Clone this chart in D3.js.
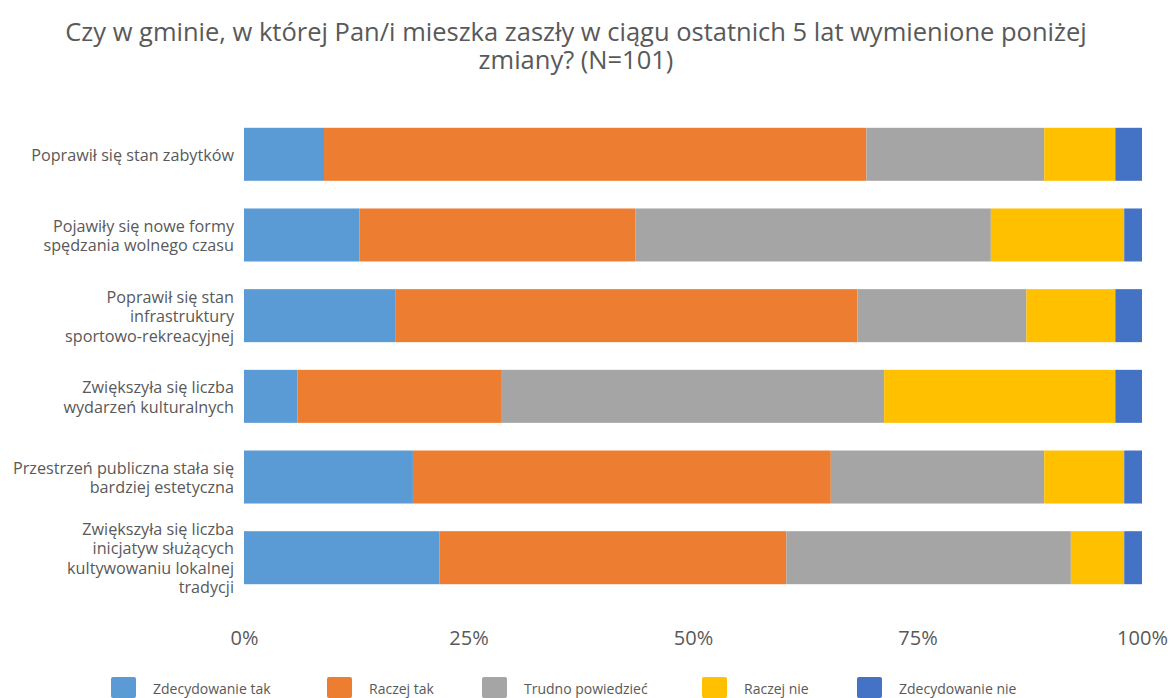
<!DOCTYPE html>
<html>
<head>
<meta charset="utf-8">
<script src="https://cdn.jsdelivr.net/npm/d3@7"></script>
<style>
  body { margin: 0; background: #fff; }
  text { font-family: "Open Sans", sans-serif; fill: #595959; }
</style>
</head>
<body>
<div id="chart"></div>
<script>
// categories (top to bottom), wrapped as in the original
var categories = [
  ["Poprawił się stan zabytków"],
  ["Pojawiły się nowe formy", "spędzania wolnego czasu"],
  ["Poprawił się stan", "infrastruktury", "sportowo-rekreacyjnej"],
  ["Zwiększyła się liczba", "wydarzeń kulturalnych"],
  ["Przestrzeń publiczna stała się", "bardziej estetyczna"],
  ["Zwiększyła się liczba", "inicjatyw służących", "kultywowaniu lokalnej", "tradycji"]
];

// answers (number of respondents, N=101)
var seriesNames = ["Zdecydowanie tak", "Raczej tak", "Trudno powiedzieć", "Raczej nie", "Zdecydowanie nie"];
var zdecydowanieTak = [9, 13, 17, 6, 19, 22];
var raczejTak = [61, 31, 52, 23, 47, 39];
var trudnoPowiedziec = [20, 40, 19, 43, 24, 32];
var raczejNie = [8, 15, 10, 26, 9, 6];
var zdecydowanieNie = [3, 2, 3, 3, 2, 2];

var tickValues = [0, 0.25, 0.5, 0.75, 1];
var colors = ["#5B9BD5", "#ED7D31", "#A5A5A5", "#FFC000", "#4472C4"];

var W = 1173, H = 698;
var left = 244, right = 1142;

// build rows for d3.stack
var seriesData = [zdecydowanieTak, raczejTak, trudnoPowiedziec, raczejNie, zdecydowanieNie];
var rows = categories.map(function (c, i) {
  var r = { id: i };
  seriesNames.forEach(function (s, j) { r[s] = seriesData[j][i]; });
  return r;
});

var stacked = d3.stack()
  .keys(seriesNames)
  .offset(d3.stackOffsetExpand)(rows);

var svg = d3.select("#chart").append("svg")
  .attr("width", W)
  .attr("height", H);

// title
svg.append("text")
  .attr("x", 576)
  .attr("y", 41)
  .attr("text-anchor", "middle")
  .style("font-size", "25.5px")
  .selectAll("tspan")
  .data(["Czy w gminie, w której Pan/i mieszka zaszły w ciągu ostatnich 5 lat wymienione poniżej", "zmiany? (N=101)"])
  .enter().append("tspan")
  .attr("x", 576)
  .attr("dy", function (d, i) { return i ? 28 : 0; })
  .text(function (d) { return d; });

var x = d3.scaleLinear().domain([0, 1]).range([left, right]);
var y = d3.scaleBand()
  .domain(rows.map(function (d) { return d.id; }))
  .range([114, 598])
  .paddingInner(0.343)
  .paddingOuter(0.171);

// bars
svg.append("g").selectAll("g")
  .data(stacked)
  .enter().append("g")
  .attr("fill", function (d, i) { return colors[i]; })
  .selectAll("rect")
  .data(function (d) { return d; })
  .enter().append("rect")
  .attr("x", function (d) { return x(d[0]); })
  .attr("y", function (d) { return y(d.data.id); })
  .attr("width", function (d) { return x(d[1]) - x(d[0]); })
  .attr("height", y.bandwidth());

// category labels
var labels = svg.append("g").selectAll("text")
  .data(categories)
  .enter().append("text")
  .attr("text-anchor", "end")
  .style("font-size", "16.2px")
  .attr("transform", function (d, i) {
    var cy = y(i) + y.bandwidth() / 2 - (d.length - 1) * 19.5 / 2 + 6.5;
    return "translate(234," + cy + ")";
  });
labels.selectAll("tspan")
  .data(function (d) { return d; })
  .enter().append("tspan")
  .attr("x", 0)
  .attr("dy", function (d, i) { return i ? 19.5 : 0; })
  .text(function (d) { return d; });

// x axis
var xAxis = svg.append("g")
  .attr("transform", "translate(0,628)")
  .call(d3.axisBottom(x).tickValues(tickValues).tickFormat(d3.format(".0%")).tickSize(0));
xAxis.select(".domain").remove();
xAxis.selectAll("text")
  .style("font-size", "20px")
  .style("fill", "#595959")
  .style("font-family", "'Open Sans', sans-serif");

// legend
var legendX = [111, 327, 482, 702, 857];
var legend = svg.append("g").selectAll("g")
  .data(seriesNames)
  .enter().append("g")
  .attr("transform", function (d, i) { return "translate(" + legendX[i] + ",677)"; });
legend.append("rect")
  .attr("width", 25)
  .attr("height", 21)
  .attr("rx", 2)
  .attr("fill", function (d, i) { return colors[i]; });
legend.append("text")
  .attr("x", 42)
  .attr("y", 17)
  .style("font-size", "14px")
  .text(function (d) { return d; });
</script>
</body>
</html>
